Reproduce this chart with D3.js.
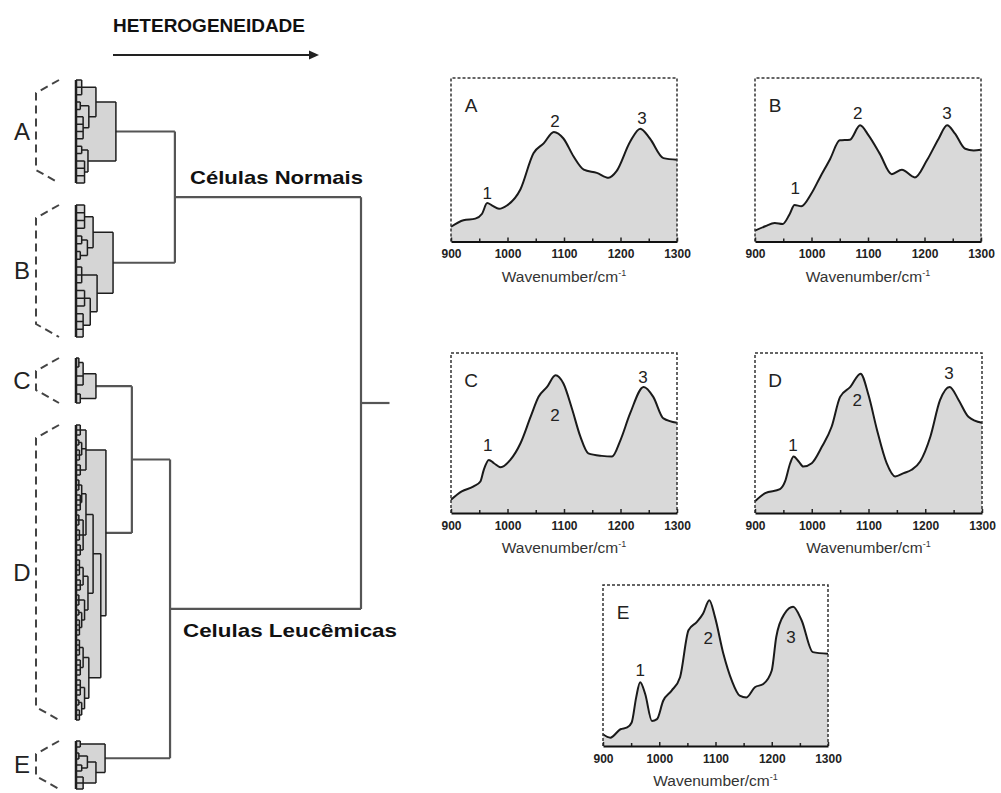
<!DOCTYPE html>
<html>
<head>
<meta charset="utf-8">
<script src="https://cdn.jsdelivr.net/npm/d3@7"></script>
<style>
  body { margin: 0; background: #fff; }
  svg { display: block; font-family: "Liberation Sans", Arial, sans-serif; }
</style>
</head>
<body>
<div id="chart"></div>
<script>
// ---------------- data ----------------

// cluster trees: [height, child, child...]; a bare number = that many leaves
var treeA = [14, [7, [2, 3], [4.5, [1.5, 2], [2.5, 4]]], [4.2, [2, 2], [3, 4]]];
var treeB = [13, [6, [3, 4], [4, [2, 2], [1.5, 2]]], [7.4, [2, 3], [5, [3, 3], [2.5, 4]]]];
var treeC = [7, [2.5, [1, 2], 2], [1.5, 2]];
var treeD = [10.5,
  [3.5, [1.5, 3], [2, [1, 2], [1.2, 3]], [1.5, 3]],
  [8.7,
    [6, [3.5, [2, [1, 3], [1.5, 4]], [2.5, [1, 3], [1.2, 3], [1.5, 3]]],
        [4.2, [2.5, [1.2, 4], [1.5, 3]], [3, [1, 3], [2, [1, 2], [1.2, 4]]]]],
    [4.5, [2.5, [1.2, 4], [1.5, 4]], [3, [1.5, 4], [2, [1, 2], [1.2, 3]]]]]];
var treeE = [10.2, [1.5, 2], [7, [4, [1, 2], [2, 2]], [2.5, 3]]];
var groupNames = ["A", "B", "C", "D", "E"];
var topTree = [100, [34.7, "A", "B"], [33, [19.6, "C", "D"], "E"]];
var rootStub = 110;

// spectra (wavenumber / relative absorbance)
var wnA = [900, 922, 943, 955, 964, 973, 985, 999, 1023, 1046, 1064, 1082, 1099, 1117, 1135, 1158, 1179, 1193, 1217, 1235, 1252, 1276, 1300];
var absA = [0.09, 0.13, 0.14, 0.17, 0.235, 0.22, 0.2, 0.22, 0.32, 0.54, 0.60, 0.67, 0.63, 0.52, 0.44, 0.42, 0.39, 0.43, 0.61, 0.69, 0.63, 0.51, 0.50];
var peaksA = [[964, 0.297], [1084, 0.737], [1238, 0.755]];

var wnB = [900, 918, 935, 949, 961, 970, 982, 999, 1015, 1033, 1050, 1068, 1086, 1101, 1121, 1142, 1160, 1183, 1204, 1225, 1240, 1254, 1272, 1287, 1300];
var absB = [0.066, 0.093, 0.113, 0.107, 0.165, 0.223, 0.216, 0.289, 0.392, 0.505, 0.619, 0.623, 0.711, 0.649, 0.536, 0.412, 0.439, 0.392, 0.495, 0.629, 0.711, 0.66, 0.567, 0.557, 0.561];
var peaksB = [[971, 0.327], [1082, 0.786], [1240, 0.786]];

var wnC = [900, 919, 940, 952, 958, 967, 976, 988, 1005, 1023, 1041, 1055, 1070, 1085, 1099, 1114, 1129, 1143, 1167, 1185, 1200, 1217, 1241, 1258, 1276, 1300];
var absC = [0.083, 0.135, 0.166, 0.197, 0.27, 0.332, 0.311, 0.286, 0.332, 0.436, 0.602, 0.726, 0.788, 0.861, 0.809, 0.653, 0.477, 0.373, 0.357, 0.353, 0.456, 0.622, 0.788, 0.726, 0.591, 0.564];
var peaksC = [[965, 0.425], [1084, 0.6125], [1240, 0.85]];

var wnD = [900, 918, 944, 953, 962, 968, 977, 985, 1000, 1018, 1035, 1050, 1068, 1086, 1100, 1115, 1132, 1147, 1162, 1176, 1191, 1209, 1226, 1243, 1259, 1276, 1300];
var absD = [0.073, 0.124, 0.149, 0.197, 0.311, 0.353, 0.322, 0.29, 0.311, 0.415, 0.539, 0.726, 0.788, 0.871, 0.737, 0.519, 0.311, 0.228, 0.249, 0.27, 0.322, 0.477, 0.705, 0.788, 0.705, 0.602, 0.564];
var peaksD = [[967, 0.425], [1080, 0.706], [1242, 0.875]];

var wnE = [900, 913, 931, 943, 951, 959, 966, 975, 987, 996, 1007, 1022, 1037, 1052, 1067, 1078, 1089, 1099, 1114, 1129, 1143, 1155, 1170, 1185, 1200, 1208, 1223, 1238, 1253, 1273, 1300];
var absE = [0.073, 0.052, 0.104, 0.115, 0.146, 0.302, 0.396, 0.323, 0.156, 0.167, 0.281, 0.344, 0.427, 0.719, 0.771, 0.823, 0.906, 0.802, 0.573, 0.406, 0.313, 0.302, 0.365, 0.385, 0.469, 0.677, 0.823, 0.865, 0.781, 0.583, 0.573];
var peaksE = [[966, 0.472], [1087, 0.671], [1234, 0.677]];

var ticksMajor = [900, 1000, 1100, 1200, 1300];
var ticksMinor = [950, 1050, 1150, 1250];

// ---------------- layout ----------------
var W = 1001, H = 793;
var groupBands = { A: [80, 183], B: [205, 337], C: [358, 403], D: [425, 720], E: [741, 789] };
var panelBoxes = {
  A: [451, 677, 78, 241.5],
  B: [755, 981, 78, 241.5],
  C: [451, 677, 353, 513],
  D: [755, 982, 353, 513],
  E: [603, 828, 585, 746]
};

var svg = d3.select("#chart").append("svg")
    .attr("width", W)
    .attr("height", H);

// ---------------- dendrogram ----------------
var groupTrees = { A: treeA, B: treeB, C: treeC, D: treeD, E: treeE };

function expand(node, group) {
    if (typeof node === "string") return expand(groupTrees[node], node);
    var kids = [];
    node.slice(1).forEach(function (c) {
        if (typeof c === "number") {
            for (var i = 0; i < c; i++) kids.push({ h: 0, group: group });
        } else {
            kids.push(expand(c, group));
        }
    });
    return { h: node[0], group: group, children: kids };
}

var root = d3.hierarchy(expand(topTree, null));
var hx = d3.scaleLinear().domain([0, 100]).range([76, 361]);

// leaf y positions, spread over each group's band
groupNames.forEach(function (g) {
    var leaves = root.leaves().filter(function (d) { return d.data.group === g; });
    var ys = d3.scaleLinear().domain([0, leaves.length - 1]).range(groupBands[g]);
    leaves.forEach(function (d, i) { d.y = ys(i); });
});
root.eachAfter(function (d) {
    d.x = hx(d.data.h);
    if (d.children) d.y = (d.children[0].y + d.children[d.children.length - 1].y) / 2;
});

var inner = root.descendants().filter(function (d) { return d.children; });

// grey fill inside each cluster
svg.append("g").selectAll("rect")
    .data(inner.filter(function (d) { return d.data.group; }))
    .enter().append("rect")
    .attr("x", hx(0))
    .attr("y", function (d) { return d.children[0].y; })
    .attr("width", function (d) { return d.x - hx(0); })
    .attr("height", function (d) { return d.children[d.children.length - 1].y - d.children[0].y; })
    .attr("fill", "#d5d5d5");

function linkPath(d) {
    var first = d.children[0], last = d.children[d.children.length - 1];
    var p = "M" + d.x + "," + first.y + "V" + last.y;
    d.children.forEach(function (c) { p += "M" + c.x + "," + c.y + "H" + d.x; });
    return p;
}

// cluster links (black, thin) and top links (grey, thick)
svg.append("g").selectAll("path")
    .data(inner)
    .enter().append("path")
    .attr("d", linkPath)
    .attr("fill", "none")
    .attr("stroke", function (d) { return d.data.group ? "#1e1e1e" : "#555"; })
    .attr("stroke-width", function (d) { return d.data.group ? 1.5 : 2.2; });

svg.append("path")
    .attr("d", "M" + root.x + "," + root.y + "H" + hx(rootStub))
    .attr("stroke", "#555")
    .attr("stroke-width", 2.2);

// leaf bars, dashed brackets and group letters
groupNames.forEach(function (g) {
    var ys = root.leaves().filter(function (d) { return d.data.group === g; }).map(function (d) { return d.y; });
    var y0 = d3.min(ys), y1 = d3.max(ys);
    svg.append("line")
        .attr("x1", hx(0)).attr("x2", hx(0))
        .attr("y1", y0).attr("y2", y1)
        .attr("stroke", "#1e1e1e").attr("stroke-width", 2.5);
    svg.append("path")
        .attr("d", "M59," + y0 + "L36," + (y0 + 13) + "V" + (y1 - 13) + "L59," + y1)
        .attr("fill", "none")
        .attr("stroke", "#444")
        .attr("stroke-width", 2)
        .attr("stroke-dasharray", "8,5");
    svg.append("text")
        .attr("x", 22)
        .attr("y", (y0 + y1) / 2 + 8)
        .attr("text-anchor", "middle")
        .attr("font-size", 24)
        .attr("fill", "#222")
        .text(g);
});

// header and cluster names
svg.append("text")
    .attr("x", 113).attr("y", 32)
    .attr("font-size", 19).attr("font-weight", "bold")
    .attr("textLength", 192).attr("lengthAdjust", "spacingAndGlyphs")
    .attr("fill", "#111")
    .text("HETEROGENEIDADE");
svg.append("line")
    .attr("x1", 113).attr("x2", 311).attr("y1", 55).attr("y2", 55)
    .attr("stroke", "#222").attr("stroke-width", 2);
svg.append("path")
    .attr("d", "M319,55L309,50.5L309,59.5Z")
    .attr("fill", "#222");

svg.append("text")
    .attr("x", 190).attr("y", 184)
    .attr("font-size", 19).attr("font-weight", "bold")
    .attr("textLength", 173).attr("lengthAdjust", "spacingAndGlyphs")
    .attr("fill", "#111")
    .text("Células Normais");
svg.append("text")
    .attr("x", 183).attr("y", 637)
    .attr("font-size", 19).attr("font-weight", "bold")
    .attr("textLength", 214).attr("lengthAdjust", "spacingAndGlyphs")
    .attr("fill", "#111")
    .text("Celulas Leucêmicas");

// ---------------- spectra ----------------
var panels = [
    { key: "A", wn: wnA, ab: absA, peaks: peaksA },
    { key: "B", wn: wnB, ab: absB, peaks: peaksB },
    { key: "C", wn: wnC, ab: absC, peaks: peaksC },
    { key: "D", wn: wnD, ab: absD, peaks: peaksD },
    { key: "E", wn: wnE, ab: absE, peaks: peaksE }
];

panels.forEach(function (p) {
    var b = panelBoxes[p.key];
    var x = d3.scaleLinear().domain([900, 1300]).range([b[0], b[1]]);
    var y = d3.scaleLinear().domain([0, 1]).range([b[3], b[2]]);
    var pts = p.wn.map(function (w, i) { return [w, p.ab[i]]; });
    var g = svg.append("g");

    g.append("path")
        .datum(pts)
        .attr("d", d3.area()
            .x(function (d) { return x(d[0]); })
            .y0(y(0))
            .y1(function (d) { return y(d[1]); })
            .curve(d3.curveMonotoneX))
        .attr("fill", "#d9d9d9");

    g.append("path")
        .datum(pts)
        .attr("d", d3.line()
            .x(function (d) { return x(d[0]); })
            .y(function (d) { return y(d[1]); })
            .curve(d3.curveMonotoneX))
        .attr("fill", "none")
        .attr("stroke", "#1a1a1a")
        .attr("stroke-width", 2);

    // dotted frame (left, top, right)
    g.append("path")
        .attr("d", "M" + b[0] + "," + b[3] + "V" + b[2] + "H" + b[1] + "V" + b[3])
        .attr("fill", "none")
        .attr("stroke", "#333")
        .attr("stroke-width", 1.5)
        .attr("stroke-dasharray", "3,2");

    // minor ticks
    g.append("g")
        .attr("transform", "translate(0," + b[3] + ")")
        .call(d3.axisBottom(x).tickValues(ticksMinor).tickSizeInner(-3).tickSizeOuter(0).tickFormat(""))
        .call(function (a) { a.select(".domain").remove(); a.selectAll("line").attr("stroke", "#222").attr("stroke-width", 1.5); });

    var ax = g.append("g")
        .attr("transform", "translate(0," + b[3] + ")")
        .call(d3.axisBottom(x).tickValues(ticksMajor).tickSizeInner(-4).tickSizeOuter(0)
            .tickPadding(8).tickFormat(d3.format("d")));
    ax.select(".domain").attr("stroke", "#111").attr("stroke-width", 2);
    ax.selectAll("line").attr("stroke", "#222").attr("stroke-width", 1.5);
    ax.selectAll("text")
        .attr("font-family", "'Liberation Sans', Arial, sans-serif")
        .attr("font-size", 12)
        .attr("font-weight", "bold")
        .attr("fill", "#222");

    var t = g.append("text")
        .attr("x", (b[0] + b[1]) / 2)
        .attr("y", b[3] + 40)
        .attr("text-anchor", "middle")
        .attr("font-size", 15.5)
        .attr("fill", "#333")
        .text("Wavenumber/cm");
    t.append("tspan").attr("font-size", 9).attr("dy", -6).text("-1");

    // panel letter
    g.append("text")
        .attr("x", b[0] + 20)
        .attr("y", b[2] + 34)
        .attr("text-anchor", "middle")
        .attr("font-size", 19)
        .attr("fill", "#222")
        .text(p.key);

    // peak numbers
    g.selectAll(".peak")
        .data(p.peaks)
        .enter().append("text")
        .attr("class", "peak")
        .attr("x", function (d) { return x(d[0]); })
        .attr("y", function (d) { return y(d[1]) + 6; })
        .attr("text-anchor", "middle")
        .attr("font-size", 17)
        .attr("fill", "#222")
        .text(function (d, i) { return i + 1; });
});
</script>
</body>
</html>
